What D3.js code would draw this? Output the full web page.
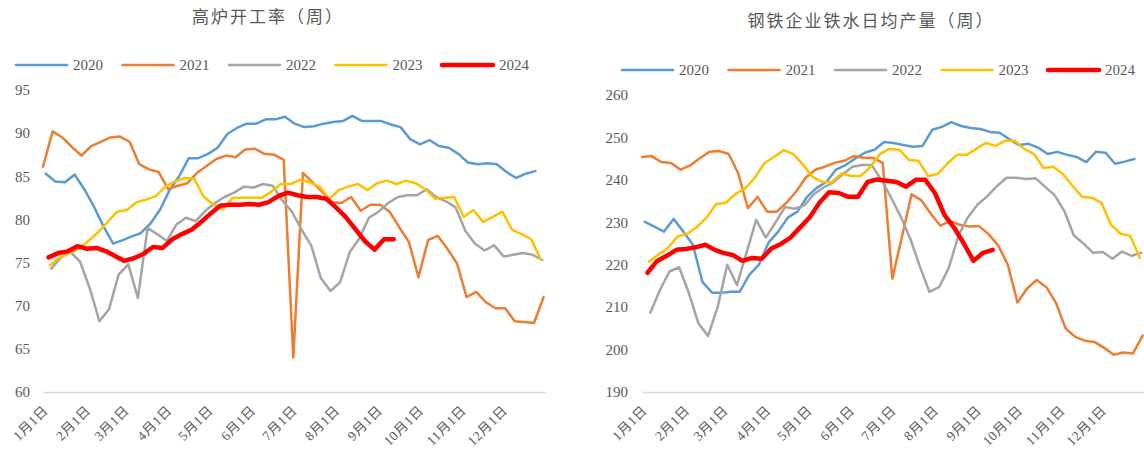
<!DOCTYPE html>
<html>
<head>
<meta charset="utf-8">
<script src="https://cdn.jsdelivr.net/npm/d3@7/dist/d3.min.js"></script>
<style>
  body { margin: 0; background: #fff; }
  svg text { font-family: "Liberation Serif", "Noto Sans CJK SC", serif; fill: #595959; }
</style>
</head>
<body>
<svg id="chart" width="1144" height="454"></svg>
<script>
// x tick labels (1st of each month)
const monthLabels = ["1月1日", "2月1日", "3月1日", "4月1日", "5月1日", "6月1日",
  "7月1日", "8月1日", "9月1日", "10月1日", "11月1日", "12月1日"];

const years = ["2020", "2021", "2022", "2023", "2024"];
// first weekly observation of each year (Fridays)
const firstDates = ["2020-01-03", "2021-01-01", "2022-01-07", "2023-01-06", "2024-01-05"];

// 高炉开工率 (%)
const rate2020 = [85.3, 84.4, 84.3, 85.2, 83.5, 81.5, 79.2, 77.2, 77.6, 78.0,
  78.4, 79.5, 81.1, 83.4, 85.0, 87.1, 87.1, 87.6, 88.3, 89.9,
  90.6, 91.1, 91.1, 91.6, 91.6, 91.9, 91.1, 90.7, 90.8, 91.1,
  91.3, 91.4, 92.0, 91.4, 91.4, 91.4, 91.0, 90.7, 89.3, 88.7,
  89.2, 88.5, 88.3, 87.6, 86.6, 86.4, 86.5, 86.4, 85.5, 84.8,
  85.3, 85.6];
const rate2021 = [86.1, 90.2, 89.5, 88.4, 87.4, 88.5, 89.0, 89.5, 89.6, 89.0,
  86.4, 85.8, 85.5, 83.5, 83.9, 84.2, 85.4, 86.2, 87.0, 87.4,
  87.2, 88.1, 88.2, 87.6, 87.5, 86.9, 64.0, 85.4, 84.3, 83.2,
  82.0, 81.9, 82.6, 81.0, 81.7, 81.7, 80.9, 79.1, 77.4, 73.3,
  77.6, 78.1, 76.6, 74.9, 71.0, 71.6, 70.4, 69.7, 69.7, 68.2,
  68.1, 68.0, 71.0];
const rate2022 = [74.3, 75.6, 76.2, 75.1, 72.0, 68.2, 69.6, 73.6, 74.8, 70.9,
  79.0, 78.3, 77.5, 79.4, 80.2, 79.8, 81.0, 81.9, 82.6, 83.1,
  83.8, 83.7, 84.1, 83.9, 82.2, 80.9, 78.8, 77.0, 73.2, 71.7,
  72.7, 76.2, 77.8, 80.2, 80.9, 81.9, 82.6, 82.8, 82.8, 83.5,
  82.6, 82.1, 81.4, 78.7, 77.2, 76.4, 77.0, 75.7, 75.9, 76.1,
  75.9, 75.3];
const rate2023 = [74.7, 75.6, 76.1, 76.6, 77.5, 78.5, 79.7, 80.9, 81.1, 82.0,
  82.3, 82.7, 83.8, 84.4, 84.8, 84.7, 82.6, 81.7, 81.2, 82.5,
  82.5, 82.5, 82.5, 83.2, 84.1, 84.1, 84.6, 84.3, 83.8, 82.4,
  83.4, 83.8, 84.1, 83.4, 84.2, 84.5, 84.1, 84.5, 84.2, 83.5,
  82.4, 82.5, 82.6, 80.3, 81.1, 79.7, 80.3, 80.9, 78.8, 78.3,
  77.7, 75.3];
const rate2024 = [75.6, 76.1, 76.3, 76.9, 76.6, 76.7, 76.3, 75.7, 75.2, 75.5,
  76.0, 76.8, 76.7, 77.7, 78.3, 78.8, 79.7, 80.7, 81.6, 81.7,
  81.7, 81.8, 81.7, 82.0, 82.7, 83.1, 82.8, 82.6, 82.6, 82.4,
  81.4, 80.3, 78.9, 77.5, 76.5, 77.7, 77.7];

// 钢铁企业铁水日均产量 (万吨)
const iron2020 = [230.1, 229.0, 227.8, 230.8, 227.8, 224.7, 215.9, 213.4, 213.4, 213.6,
  213.6, 217.6, 220.0, 225.2, 227.8, 231.1, 232.5, 236.0, 238.1, 239.5,
  242.4, 243.5, 245.0, 246.4, 247.1, 248.9, 248.7, 248.2, 247.8, 248.0,
  251.8, 252.5, 253.6, 252.7, 252.2, 252.0, 251.3, 251.1, 249.6, 248.2,
  248.5, 247.6, 246.1, 246.6, 245.9, 245.4, 244.2, 246.6, 246.4, 243.8,
  244.3, 244.9];
const iron2021 = [245.4, 245.6, 244.2, 244.0, 242.4, 243.4, 245.1, 246.6, 246.8, 246.1,
  241.5, 233.3, 236.0, 232.5, 232.5, 234.6, 237.2, 240.5, 242.4, 243.1,
  244.0, 244.5, 245.6, 245.2, 245.2, 244.0, 216.7, 226.6, 236.6, 235.2,
  232.0, 229.2, 230.3, 229.4, 229.0, 229.1, 227.2, 224.5, 220.0, 211.1,
  214.4, 216.4, 214.7, 211.0, 205.0, 203.0, 202.1, 201.8, 200.4, 198.8,
  199.3, 199.1, 203.3];
const iron2022 = [208.7, 214.0, 218.4, 219.4, 213.4, 206.2, 203.2, 210.0, 220.0, 215.2,
  222.8, 230.6, 226.4, 229.9, 233.6, 233.2, 234.0, 236.6, 238.2, 239.4,
  241.3, 243.1, 243.5, 243.5, 240.0, 235.9, 231.4, 226.2, 219.6, 213.6,
  214.7, 219.2, 226.8, 231.2, 234.2, 236.1, 238.5, 240.5, 240.5, 240.2,
  240.4, 238.4, 236.4, 232.7, 226.9, 225.0, 222.8, 223.0, 221.4, 223.1,
  222.1, 222.8];
const iron2023 = [220.7, 222.4, 224.0, 226.7, 227.3, 228.9, 231.1, 234.3, 234.6, 236.7,
  238.0, 240.5, 243.9, 245.4, 247.0, 246.1, 243.6, 240.7, 239.5, 239.5,
  241.5, 240.9, 240.9, 243.0, 246.1, 247.3, 247.1, 244.7, 244.5, 240.9,
  241.4, 243.8, 245.9, 245.9, 247.3, 248.7, 248.0, 249.2, 249.2, 247.3,
  246.1, 242.8, 243.1, 241.4, 238.6, 236.0, 235.8, 234.6, 229.4, 227.3,
  226.8, 221.6];
const iron2024 = [218.1, 220.9, 222.1, 223.5, 223.7, 224.1, 224.7, 223.5, 222.8, 222.3,
  220.9, 221.6, 221.4, 223.8, 224.9, 226.4, 228.8, 231.2, 234.6, 237.1,
  236.9, 236.0, 236.0, 239.5, 240.1, 239.8, 239.5, 238.4, 240.0, 240.0,
  236.9, 231.7, 228.7, 225.0, 220.9, 222.8, 223.5];

const rateTicks = [60, 65, 70, 75, 80, 85, 90, 95];
const ironTicks = [190, 200, 210, 220, 230, 240, 250, 260];

// styles
const colors = ["#5B9BD5", "#ED7D31", "#A5A5A5", "#FFC000", "#FF0000"];
const widths = [2.5, 2.5, 2.5, 2.5, 4.5];

let svg = d3.select("#chart");
let parseDate = d3.timeParse("%Y-%m-%d");

// put every weekly point on a common (non leap) calendar year
function toSeries(values, i) {
  let start = parseDate(firstDates[i]);
  return values.map((v, k) => {
    let d = d3.timeDay.offset(start, 7 * k);
    return { date: new Date(2021, d.getMonth(), d.getDate()), value: v };
  });
}

function drawPanel(opts) {
  let g = svg.append("g").attr("transform", "translate(" + opts.dx + ",0)");

  let xScale = d3.scaleTime()
    .domain([new Date(2021, 0, 1), new Date(2022, 0, 1)])
    .range([43, 545]);

  let yScale = d3.scaleLinear()
    .domain(d3.extent(opts.ticks))
    .range([392, opts.top]);

  // title
  g.append("text")
    .attr("x", opts.titleX)
    .attr("y", opts.titleY)
    .attr("text-anchor", "middle")
    .style("font-size", "17px")
    .style("letter-spacing", "2px")
    .text(opts.title);

  // legend
  let legend = g.selectAll(".legend")
    .data(years)
    .enter().append("g")
    .attr("class", "legend")
    .attr("transform", (d, i) => "translate(" + (opts.legendX + i * 106.5) + "," + opts.legendY + ")");
  legend.append("line")
    .attr("x1", 0).attr("x2", 51)
    .attr("stroke", (d, i) => colors[i])
    .attr("stroke-width", (d, i) => widths[i])
    .attr("stroke-linecap", "round");
  legend.append("text")
    .attr("x", 57)
    .attr("dy", "0.35em")
    .style("font-size", "15px")
    .text(d => d);

  // y axis (labels only)
  let yAxis = g.append("g")
    .attr("transform", "translate(43,0)")
    .call(d3.axisLeft(yScale).tickValues(opts.ticks).tickSize(0).tickPadding(opts.pad));
  yAxis.select(".domain").remove();
  yAxis.selectAll("text").style("font-size", "15px").attr("fill", "#595959");

  // x axis
  let xAxis = g.append("g")
    .attr("transform", "translate(0,392)")
    .call(d3.axisBottom(xScale)
      .tickValues(monthLabels.map((m, i) => new Date(2021, i, 1)))
      .tickSize(0)
      .tickSizeOuter(0)
      .tickFormat((d, i) => monthLabels[i]));
  xAxis.select(".domain").attr("stroke", "#D9D9D9").attr("stroke-width", 1.5);
  xAxis.selectAll("text")
    .attr("y", 0)
    .attr("x", 0)
    .attr("dy", "0.35em")
    .attr("transform", "translate(2,16) rotate(-45)")
    .attr("text-anchor", "end")
    .attr("fill", "#595959")
    .style("font-size", "13.5px")
    .style("letter-spacing", "0.5px");

  let line = d3.line()
    .x(d => xScale(d.date))
    .y(d => yScale(d.value));

  opts.series.forEach((values, i) => {
    g.append("path")
      .datum(toSeries(values, i))
      .attr("fill", "none")
      .attr("stroke", colors[i])
      .attr("stroke-width", widths[i])
      .attr("stroke-linejoin", "round")
      .attr("stroke-linecap", "round")
      .attr("d", line);
  });
}

drawPanel({
  dx: 0, top: 90, ticks: rateTicks, pad: 13,
  title: "高炉开工率（周）", titleX: 268, titleY: 23,
  legendX: 16, legendY: 65,
  series: [rate2020, rate2021, rate2022, rate2023, rate2024]
});

drawPanel({
  dx: 599, top: 95, ticks: ironTicks, pad: 14,
  title: "钢铁企业铁水日均产量（周）", titleX: 272, titleY: 27,
  legendX: 23, legendY: 70,
  series: [iron2020, iron2021, iron2022, iron2023, iron2024]
});
</script>
</body>
</html>
